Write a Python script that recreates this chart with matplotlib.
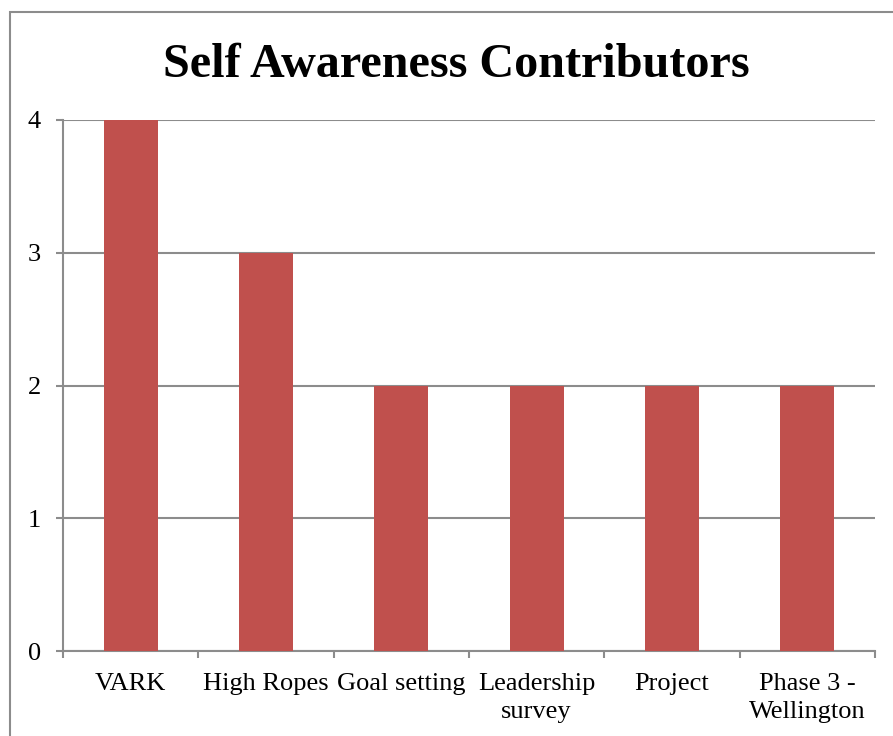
import matplotlib.pyplot as plt
from matplotlib.patches import Rectangle

plt.rcParams['font.family'] = ['Liberation Serif', 'DejaVu Serif']

categories = ['VARK', 'High Ropes', 'Goal setting', 'Leadership\nsurvey', 'Project', 'Phase 3 -\nWellington']
values = [4, 3, 2, 2, 2, 2]

fig = plt.figure(figsize=(8.93, 7.36), dpi=100)
W, H = 893, 736

# outer chart border (cut at right/bottom like the original)
fig.patches.append(Rectangle((10 / W, -0.1), 1.2, 1.1 - 12 / H, transform=fig.transFigure,
                             fill=False, edgecolor='#8c8c8c', linewidth=1.5))

ax = fig.add_axes([63 / W, (H - 651) / H, (875 - 63) / W, (651 - 120) / H])
x = range(len(categories))
ax.bar(x, values, width=0.4, color='#C0504D', zorder=3)

ax.set_xlim(-0.5, len(categories) - 0.5)
ax.set_ylim(0, 4)
ax.set_yticks([0, 1, 2, 3, 4])
ax.yaxis.grid(True, color='#8c8c8c', linewidth=1.5, zorder=0)
ax.set_xticks([i - 0.5 for i in range(len(categories) + 1)], minor=False)
ax.set_xticklabels([])
ax.set_xticks(list(x), minor=True)
ax.set_xticklabels(categories, minor=True, fontsize=19, linespacing=1.35)
ax.tick_params(axis='x', which='minor', length=0, pad=16)
ax.tick_params(axis='x', which='major', length=5, width=1.5, color='#8c8c8c')
ax.tick_params(axis='y', length=5, width=1.5, color='#8c8c8c', labelsize=19, pad=11)

for s in ['top', 'right']:
    ax.spines[s].set_visible(False)
for s in ['left', 'bottom']:
    ax.spines[s].set_color('#8c8c8c')
    ax.spines[s].set_linewidth(1.5)

fig.text(456 / W, 1 - 77 / H, 'Self Awareness Contributors', ha='center', va='baseline',
         fontsize=34.7, fontweight='bold')

fig.savefig('out.png', dpi=100)
